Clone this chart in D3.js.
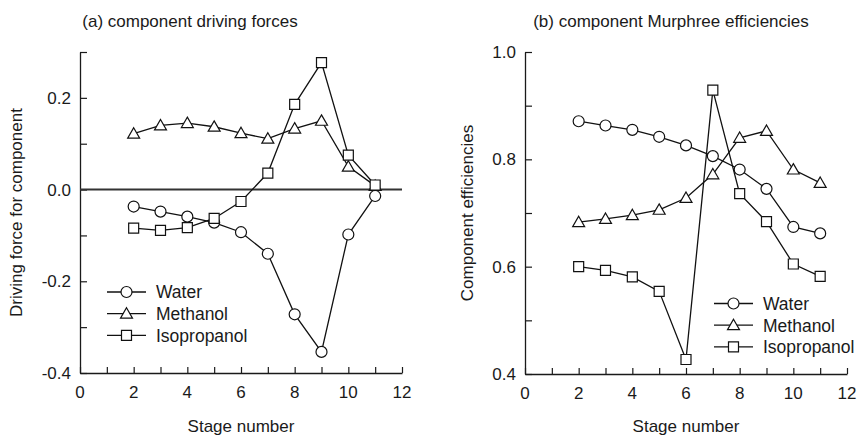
<!DOCTYPE html>
<html>
<head>
<meta charset="utf-8">
<script src="https://cdn.jsdelivr.net/npm/d3@7"></script>
<style>
  body { margin: 0; background: #fff; }
  svg { display: block; font-family: "Liberation Sans", Arial, sans-serif; }
</style>
</head>
<body>
<div id="main"></div>
<script>
(function() {
  const stages = [2, 3, 4, 5, 6, 7, 8, 9, 10, 11];
  const seriesNames = ["Water", "Methanol", "Isopropanol"];

  // (a) driving forces
  const forceWater = [-0.037, -0.048, -0.059, -0.072, -0.093, -0.140, -0.272, -0.354, -0.098, -0.014];
  const forceMethanol = [0.122, 0.140, 0.145, 0.137, 0.123, 0.111, 0.133, 0.150, 0.050, 0.008];
  const forceIsopropanol = [-0.084, -0.089, -0.083, -0.063, -0.026, 0.036, 0.186, 0.277, 0.075, 0.010];

  // (b) Murphree efficiencies
  const effWater = [0.871, 0.863, 0.855, 0.842, 0.826, 0.806, 0.781, 0.745, 0.674, 0.662];
  const effMethanol = [0.683, 0.689, 0.696, 0.706, 0.728, 0.772, 0.840, 0.853, 0.781, 0.756];
  const effIsopropanol = [0.600, 0.593, 0.581, 0.554, 0.427, 0.929, 0.736, 0.684, 0.605, 0.582];

  const xTicks = [0, 2, 4, 6, 8, 10, 12];
  const forceTicks = [-0.4, -0.2, 0.0, 0.2];
  const effTicks = [0.4, 0.6, 0.8, 1.0];

  const width = 857, height = 435;
  const ink = "#1a1a1a";
  const fontSize = "17px";

  const svg = d3.select("#main")
    .append("svg")
    .attr("width", width)
    .attr("height", height);

  const symbols = {
    Water: d3.symbolCircle,
    Methanol: d3.symbolTriangle,
    Isopropanol: d3.symbolSquare
  };
  const symbolSize = {
    Water: 95,
    Methanol: 62,
    Isopropanol: 100
  };

  function drawPanel(opt) {
    const g = svg.append("g");
    const x = d3.scaleLinear().domain([0, 12]).range([opt.left, opt.right]);
    const y = d3.scaleLinear().domain(opt.yDomain).range([opt.bottom, opt.top]);

    // x axis with ticks pointing inward
    const xAxis = g.append("g")
      .attr("transform", `translate(0,${opt.bottom})`)
      .call(d3.axisBottom(x).tickValues(d3.range(0, 13)).tickSizeInner(-6).tickSizeOuter(0).tickFormat(""));
    xAxis.selectAll("path").attr("stroke", ink).attr("stroke-width", 1.3);
    xAxis.selectAll("line").attr("stroke", ink).attr("stroke-width", 1.2);

    g.append("g").selectAll("text")
      .data(xTicks)
      .join("text")
      .attr("x", d => x(d))
      .attr("y", opt.bottom + 25)
      .attr("text-anchor", "middle")
      .attr("font-size", fontSize)
      .attr("fill", ink)
      .text(d => d);

    // y axis
    const yMinor = d3.range(opt.yDomain[0], opt.yDomain[1] + 1e-9, 0.1);
    const yAxis = g.append("g")
      .attr("transform", `translate(${opt.left},0)`)
      .call(d3.axisLeft(y).tickValues(yMinor).tickSizeInner(-7).tickSizeOuter(0).tickFormat(""));
    yAxis.selectAll("path").attr("stroke", ink).attr("stroke-width", 1.3);
    yAxis.selectAll("line").attr("stroke", ink).attr("stroke-width", 1.2);

    g.append("g").selectAll("text")
      .data(opt.yTicks)
      .join("text")
      .attr("x", opt.left - 9)
      .attr("y", d => y(d))
      .attr("dy", "0.36em")
      .attr("text-anchor", "end")
      .attr("font-size", fontSize)
      .attr("fill", ink)
      .text(d => d.toFixed(1));

    if (opt.zeroLine) {
      g.append("line")
        .attr("x1", x(0)).attr("x2", x(12))
        .attr("y1", y(0)).attr("y2", y(0))
        .attr("stroke", "#333")
        .attr("stroke-width", 2);
    }

    // titles
    g.append("text")
      .attr("x", opt.titleX)
      .attr("y", 27)
      .attr("text-anchor", "middle")
      .attr("font-size", fontSize)
      .attr("fill", ink)
      .text(opt.title);

    g.append("text")
      .attr("x", (opt.left + opt.right) / 2)
      .attr("y", 432)
      .attr("text-anchor", "middle")
      .attr("font-size", fontSize)
      .attr("fill", ink)
      .text("Stage number");

    g.append("text")
      .attr("transform", `translate(${opt.yLabelX},${(opt.top + opt.bottom) / 2}) rotate(-90)`)
      .attr("text-anchor", "middle")
      .attr("dy", "0.35em")
      .attr("font-size", fontSize)
      .attr("fill", ink)
      .text(opt.yLabel);

    const line = d3.line()
      .x(d => x(d.stage))
      .y(d => y(d.value));

    seriesNames.forEach((name, i) => {
      const pts = stages.map((s, j) => ({ stage: s, value: opt.series[i][j] }));
      g.append("path")
        .datum(pts)
        .attr("fill", "none")
        .attr("stroke", "#111")
        .attr("stroke-width", 1.3)
        .attr("d", line);
      g.append("g").selectAll("path")
        .data(pts)
        .join("path")
        .attr("transform", d => `translate(${x(d.stage)},${y(d.value) + (name === "Methanol" ? 1 : 0)})`)
        .attr("d", d3.symbol(symbols[name], symbolSize[name]))
        .attr("fill", "#fff")
        .attr("stroke", "#111")
        .attr("stroke-width", 1.2);
    });

    // legend
    const legend = g.append("g");
    seriesNames.forEach((name, i) => {
      const ly = opt.legendY + i * 21.7;
      legend.append("line")
        .attr("x1", opt.legendX).attr("x2", opt.legendX + 39)
        .attr("y1", ly).attr("y2", ly)
        .attr("stroke", "#111")
        .attr("stroke-width", 1.3);
      legend.append("path")
        .attr("transform", `translate(${opt.legendX + 19.5},${ly + (name === "Methanol" ? 1 : 0)})`)
        .attr("d", d3.symbol(symbols[name], symbolSize[name]))
        .attr("fill", "#fff")
        .attr("stroke", "#111")
        .attr("stroke-width", 1.2);
      legend.append("text")
        .attr("x", opt.legendX + 49)
        .attr("y", ly)
        .attr("dy", "0.36em")
        .attr("font-size", "17.5px")
        .attr("fill", ink)
        .text(name);
    });
  }

  drawPanel({
    left: 80, right: 402, top: 52, bottom: 373,
    yDomain: [-0.4, 0.3],
    yTicks: forceTicks,
    series: [forceWater, forceMethanol, forceIsopropanol],
    title: "(a) component driving forces",
    titleX: 190,
    yLabel: "Driving force for component",
    yLabelX: 16,
    zeroLine: true,
    legendX: 107, legendY: 292
  });

  drawPanel({
    left: 525, right: 847, top: 52, bottom: 374,
    yDomain: [0.4, 1.0],
    yTicks: effTicks,
    series: [effWater, effMethanol, effIsopropanol],
    title: "(b) component Murphree efficiencies",
    titleX: 671,
    yLabel: "Component efficiencies",
    yLabelX: 467,
    zeroLine: false,
    legendX: 714, legendY: 303.5
  });
})();
</script>
</body>
</html>
